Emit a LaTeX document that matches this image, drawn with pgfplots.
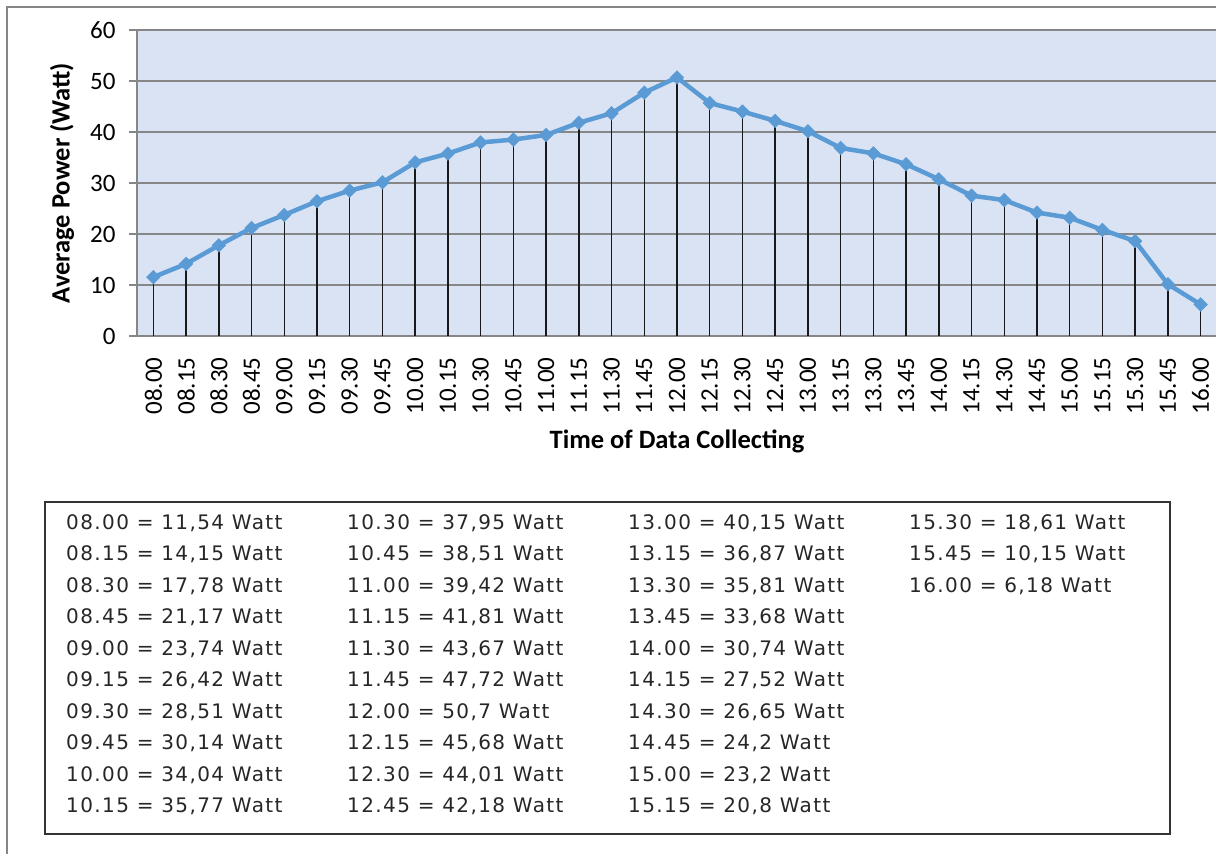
\documentclass[border=0pt]{standalone}
\usepackage{pgfplots}
\pgfplotsset{compat=1.18}
\usepackage{pgfplotstable}
\usepackage{fontspec}
\setmainfont{Carlito}
\newfontfamily\boxfont[LetterSpace=7]{DejaVu Sans}
\definecolor{plotbg}{RGB}{218,227,243}
\definecolor{gridc}{RGB}{134,134,134}
\definecolor{lineblue}{RGB}{91,155,213}
\pgfplotstableread{
x y
0 11.54
1 14.15
2 17.78
3 21.17
4 23.74
5 26.42
6 28.51
7 30.14
8 34.04
9 35.77
10 37.95
11 38.51
12 39.42
13 41.81
14 43.67
15 47.72
16 50.7
17 45.68
18 44.01
19 42.18
20 40.15
21 36.87
22 35.81
23 33.68
24 30.74
25 27.52
26 26.65
27 24.2
28 23.2
29 20.8
30 18.61
31 10.15
32 6.18
}\datatable
\begin{document}
\begin{tikzpicture}
\path[use as bounding box] (0pt,0pt) rectangle (1216pt,-854pt);
\draw[color=gridc, line width=1.2pt] (7pt,-860pt) -- (7pt,-7pt) -- (1230pt,-7pt);
\begin{axis}[
  at={(137pt,-336pt)}, anchor=south west,
  scale only axis, width=1080pt, height=306pt,
  xmin=-0.5, xmax=32.5, ymin=0, ymax=60,
  ytick={0,10,...,60},
  xtick={0,...,32},
  xticklabels={08.00,08.15,08.30,08.45,09.00,09.15,09.30,09.45,10.00,10.15,10.30,10.45,11.00,11.15,11.30,11.45,12.00,12.15,12.30,12.45,13.00,13.15,13.30,13.45,14.00,14.15,14.30,14.45,15.00,15.15,15.30,15.45,16.00},
  axis x line*=bottom, axis y line*=left,
  axis line style={color=gridc, line width=1.3pt, -},
  ymajorgrids, grid style={color=gridc, line width=1.3pt},
  axis background/.style={fill=plotbg},
  /pgf/number format/assume math mode=true,
  y tick label style={font=\fontsize{25}{27}\selectfont, xshift=-10pt},
  x tick label style={font=\fontsize{25}{27}\selectfont, yshift=-10pt, rotate=90, anchor=east},
  ytick style={color=gridc, line width=1.3pt},
  major tick length=8pt,
  xtick style={draw=none},
  ytick pos=left, tick align=outside,
  every axis y label/.style={at={(rel axis cs:0,0.5)}, xshift=-75pt, rotate=90, anchor=center, font=\bfseries\fontsize{26.5}{28}\selectfont},
  every axis x label/.style={at={(rel axis cs:0.5,0)}, yshift=-105pt, anchor=center, font=\bfseries\fontsize{26.5}{28}\selectfont},
  ylabel={Average Power (Watt)},
  xlabel={Time of Data Collecting},
  clip=false,
]
\addplot[ycomb, black!90, line width=1.5pt, mark=none] table[x=x,y=y] {\datatable};
\addplot[color=lineblue, line width=4.5pt, mark=square*, mark size=4.8pt, mark options={fill=lineblue, draw=lineblue, line width=0.5pt, rotate=45}] table[x=x,y=y] {\datatable};
\end{axis}
\draw[color=black!80, line width=1.5pt] (45pt,-502pt) rectangle (1170pt,-834pt);
\begin{scope}[every node/.style={anchor=west, inner sep=0pt, font=\boxfont\fontsize{20}{22}\selectfont, text=black!85}]
\node at (66pt,-523pt) {08.00 = 11,54 Watt};
\node at (66pt,-554.5pt) {08.15 = 14,15 Watt};
\node at (66pt,-586pt) {08.30 = 17,78 Watt};
\node at (66pt,-617.5pt) {08.45 = 21,17 Watt};
\node at (66pt,-649pt) {09.00 = 23,74 Watt};
\node at (66pt,-680.5pt) {09.15 = 26,42 Watt};
\node at (66pt,-712pt) {09.30 = 28,51 Watt};
\node at (66pt,-743.5pt) {09.45 = 30,14 Watt};
\node at (66pt,-775pt) {10.00 = 34,04 Watt};
\node at (66pt,-806.5pt) {10.15 = 35,77 Watt};
\node at (347pt,-523pt) {10.30 = 37,95 Watt};
\node at (347pt,-554.5pt) {10.45 = 38,51 Watt};
\node at (347pt,-586pt) {11.00 = 39,42 Watt};
\node at (347pt,-617.5pt) {11.15 = 41,81 Watt};
\node at (347pt,-649pt) {11.30 = 43,67 Watt};
\node at (347pt,-680.5pt) {11.45 = 47,72 Watt};
\node at (347pt,-712pt) {12.00 = 50,7 Watt};
\node at (347pt,-743.5pt) {12.15 = 45,68 Watt};
\node at (347pt,-775pt) {12.30 = 44,01 Watt};
\node at (347pt,-806.5pt) {12.45 = 42,18 Watt};
\node at (628pt,-523pt) {13.00 = 40,15 Watt};
\node at (628pt,-554.5pt) {13.15 = 36,87 Watt};
\node at (628pt,-586pt) {13.30 = 35,81 Watt};
\node at (628pt,-617.5pt) {13.45 = 33,68 Watt};
\node at (628pt,-649pt) {14.00 = 30,74 Watt};
\node at (628pt,-680.5pt) {14.15 = 27,52 Watt};
\node at (628pt,-712pt) {14.30 = 26,65 Watt};
\node at (628pt,-743.5pt) {14.45 = 24,2 Watt};
\node at (628pt,-775pt) {15.00 = 23,2 Watt};
\node at (628pt,-806.5pt) {15.15 = 20,8 Watt};
\node at (909pt,-523pt) {15.30 = 18,61 Watt};
\node at (909pt,-554.5pt) {15.45 = 10,15 Watt};
\node at (909pt,-586pt) {16.00 = 6,18 Watt};
\end{scope}
\end{tikzpicture}
\end{document}
